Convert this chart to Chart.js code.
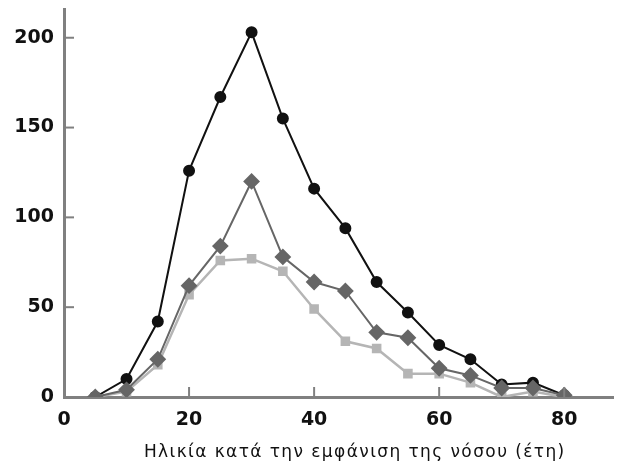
<!DOCTYPE html>
<html>
<head>
<meta charset="utf-8">
<script src="https://cdn.jsdelivr.net/npm/chart.js@4"></script>
<style>
  body { margin: 0; background: #fff; overflow: hidden; }
  #wrap { width: 622px; height: 466px; }
</style>
</head>
<body>
<div id="wrap"><canvas id="chart"></canvas></div>
<script>
const ages = [5, 10, 15, 20, 25, 30, 35, 40, 45, 50, 55, 60, 65, 70, 75, 80];
const blackSeries = [0, 10, 42, 126, 167, 203, 155, 116, 94, 64, 47, 29, 21, 7, 8, 1];
const diamondSeries = [0, 4, 21, 62, 84, 120, 78, 64, 59, 36, 33, 16, 12, 5, 5, 1];
const squareSeries = [0, 3, 18, 57, 76, 77, 70, 49, 31, 27, 13, 13, 8, 0, 3, 0];
const xTickValues = [0, 20, 40, 60, 80];
const yTickValues = [0, 50, 100, 150, 200];
const xTitle = 'Ηλικία κατά την εμφάνιση της νόσου (έτη)';

function toPoints(values) {
  return ages.map((a, i) => ({ x: a, y: values[i] }));
}

// inward tick marks + spaced axis title, placed from the scales
const axisExtras = {
  id: 'axisExtras',
  afterDraw(chart) {
    const ctx = chart.ctx;
    const xs = chart.scales.x, ys = chart.scales.y;
    const area = chart.chartArea;
    ctx.save();
    ctx.strokeStyle = '#808080';
    ctx.lineWidth = 2;
    xs.ticks.forEach(t => {
      if (t.value === 0) return;
      const px = xs.getPixelForValue(t.value);
      ctx.beginPath();
      ctx.moveTo(px, area.bottom);
      ctx.lineTo(px, area.bottom - 10);
      ctx.stroke();
    });
    ys.ticks.forEach(t => {
      if (t.value === 0) return;
      const py = ys.getPixelForValue(t.value);
      ctx.beginPath();
      ctx.moveTo(area.left, py);
      ctx.lineTo(area.left + 10, py);
      ctx.stroke();
    });
    ctx.fillStyle = '#111';
    ctx.font = '17px "DejaVu Sans"';
    ctx.letterSpacing = '1.4px';
    ctx.textAlign = 'center';
    ctx.textBaseline = 'alphabetic';
    ctx.fillText(xTitle, xs.getPixelForValue(46.5), xs.bottom - 9);
    ctx.restore();
  }
};

const tickFont = { family: 'DejaVu Sans', size: 19, weight: 'bold' };

new Chart(document.getElementById('chart'), {
  type: 'line',
  data: {
    datasets: [
      {
        label: 'diamonds',
        data: toPoints(diamondSeries),
        borderColor: '#666666',
        backgroundColor: '#666666',
        borderWidth: 2,
        pointStyle: 'rectRot',
        pointRadius: 7,
        order: 1
      },
      {
        label: 'circles',
        data: toPoints(blackSeries),
        borderColor: '#111111',
        backgroundColor: '#111111',
        borderWidth: 2,
        pointStyle: 'circle',
        pointRadius: 5,
        order: 2
      },
      {
        label: 'squares',
        data: toPoints(squareSeries),
        borderColor: '#b5b5b5',
        backgroundColor: '#b5b5b5',
        borderWidth: 2.5,
        pointStyle: 'rect',
        pointRadius: 5,
        order: 3
      }
    ]
  },
  options: {
    responsive: true,
    maintainAspectRatio: false,
    animation: false,
    layout: { padding: { top: 7, right: 0, left: 0, bottom: 0 } },
    plugins: { legend: { display: false }, tooltip: { enabled: false } },
    scales: {
      x: {
        type: 'linear',
        min: 0,
        max: 87.8,
        afterBuildTicks: s => { s.ticks = xTickValues.map(v => ({ value: v })); },
        afterFit: s => { s.height = 69; s.paddingLeft = 0; s.paddingRight = 0; },
        grid: { display: false, drawTicks: false },
        border: { color: '#808080', width: 3 },
        ticks: { color: '#111', font: tickFont, padding: 12, maxRotation: 0 }
      },
      y: {
        min: 0,
        max: 216,
        afterBuildTicks: s => { s.ticks = yTickValues.map(v => ({ value: v })); },
        afterFit: s => { s.width = 64; s.paddingTop = 0; s.paddingBottom = 0; },
        grid: { display: false, drawTicks: false },
        border: { color: '#808080', width: 3 },
        ticks: { color: '#111', font: tickFont, padding: 10 }
      }
    }
  },
  plugins: [axisExtras]
});
</script>
</body>
</html>
